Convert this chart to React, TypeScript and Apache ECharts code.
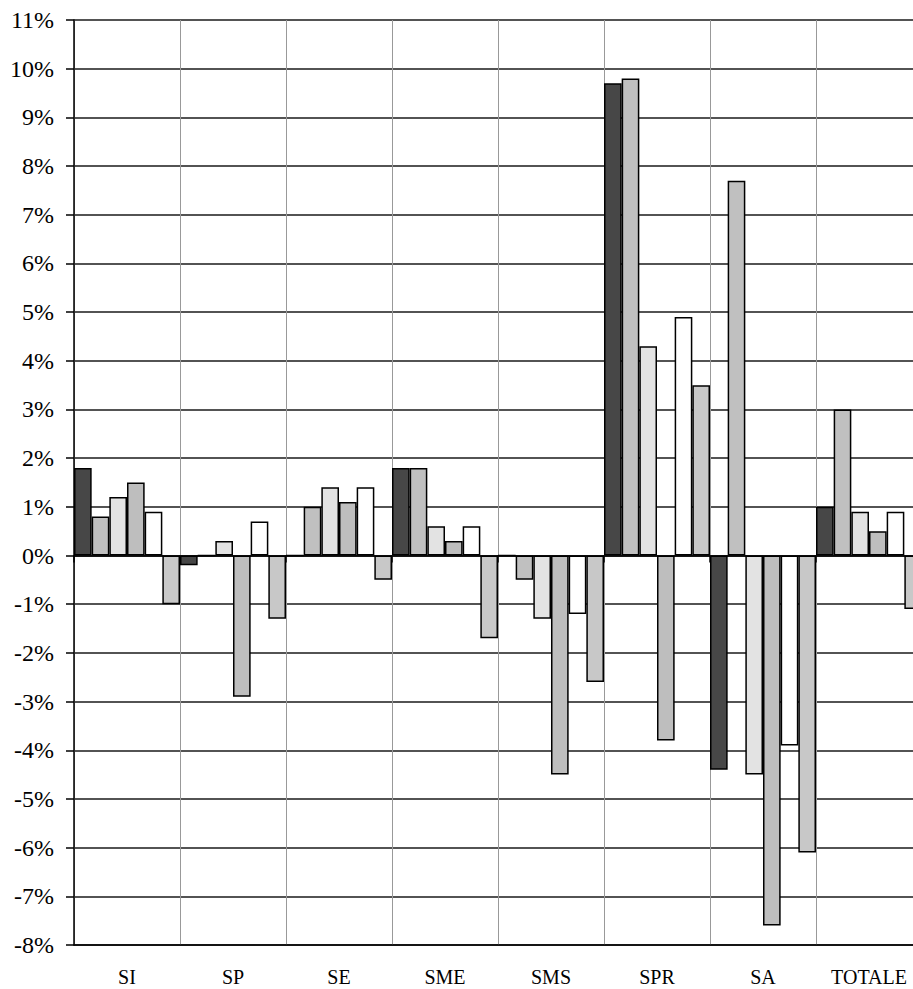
import React, { useEffect, useRef } from 'react';
import * as echarts from 'echarts';

const categories = ['SI', 'SP', 'SE', 'SME', 'SMS', 'SPR', 'SA', 'TOTALE'];
const serie1 = [1.8, -0.2, 0, 1.8, 0, 9.7, -4.4, 1.0];
const serie2 = [0.8, 0, 1.0, 1.8, -0.5, 9.8, 7.7, 3.0];
const serie3 = [1.2, 0.3, 1.4, 0.6, -1.3, 4.3, -4.5, 0.9];
const serie4 = [1.5, -2.9, 1.1, 0.3, -4.5, -3.8, -7.6, 0.5];
const serie5 = [0.9, 0.7, 1.4, 0.6, -1.2, 4.9, -3.9, 0.9];
const serie6 = [-1.0, -1.3, -0.5, -1.7, -2.6, 3.5, -6.1, -1.1];

const seriesNames = ['Serie 1', 'Serie 2', 'Serie 3', 'Serie 4', 'Serie 5', 'Serie 6'];
const seriesData = [serie1, serie2, serie3, serie4, serie5, serie6];
const seriesColors = ['#474747', '#c0c0c0', '#e3e3e3', '#bebebe', '#ffffff', '#c8c8c8'];

const FONT = '"Liberation Serif", "Times New Roman", serif';

export default function App() {
  const ref = useRef<HTMLDivElement>(null);
  useEffect(() => {
    const chart = echarts.init(ref.current!, null, { renderer: 'svg' });
    chart.setOption({
      animation: false,
      backgroundColor: '#ffffff',
      grid: { left: 74, right: 0, top: 20, bottom: 44 },
      xAxis: [
        {
          type: 'category',
          data: categories,
          position: 'bottom',
          axisLine: { show: true, onZero: false, lineStyle: { color: '#000', width: 1.5 } },
          axisTick: { show: false },
          splitLine: { show: true, interval: 0, lineStyle: { color: '#999', width: 1 } },
          axisLabel: { interval: 0, color: '#000', fontFamily: FONT, fontSize: 20, margin: 22 },
        },
        {
          type: 'category',
          data: categories,
          position: 'bottom',
          axisLine: { show: true, onZero: true, lineStyle: { color: '#000', width: 1.5 } },
          axisTick: { show: true, interval: 0, length: 7, lineStyle: { color: '#000', width: 1.5 } },
          axisLabel: { show: false },
          splitLine: { show: false },
        },
      ],
      yAxis: {
        type: 'value',
        min: -8,
        max: 11,
        interval: 1,
        axisLine: { show: true, lineStyle: { color: '#000', width: 1.5 } },
        axisTick: { show: true, length: 8, lineStyle: { color: '#000', width: 1.5 } },
        splitLine: { show: true, lineStyle: { color: '#1a1a1a', width: 1.5 } },
        axisLabel: { formatter: '{value}%', color: '#000', fontFamily: FONT, fontSize: 24, margin: 20 },
      },
      series: seriesData.map((d, i) => ({
        name: seriesNames[i],
        type: 'bar',
        xAxisIndex: 0,
        data: d,
        barGap: '0%',
        barCategoryGap: '0%',
        itemStyle: { color: seriesColors[i], borderColor: '#000', borderWidth: 1.5 },
      })),
    });
    return () => chart.dispose();
  }, []);
  return <div ref={ref} style={{ position: 'fixed', left: 0, top: 0, width: 922, height: 989 }} />;
}
